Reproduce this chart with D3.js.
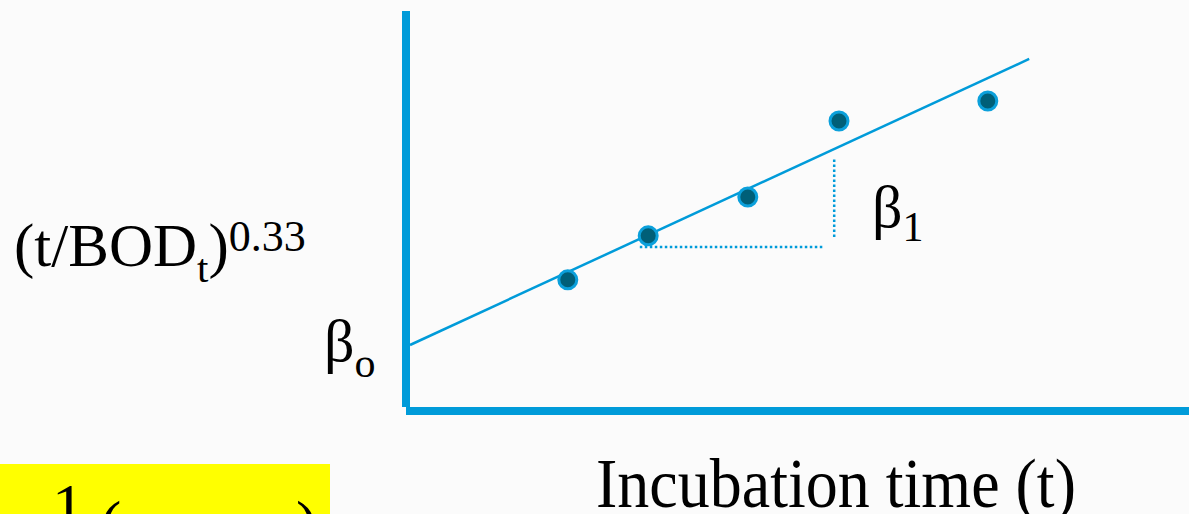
<!DOCTYPE html>
<html>
<head>
<meta charset="utf-8">
<script src="https://cdn.jsdelivr.net/npm/d3@7"></script>
<style>
  html, body { margin: 0; padding: 0; background: #fbfbfb; }
  svg { display: block; font-family: "Liberation Serif", "Times New Roman", serif; }
</style>
</head>
<body>
<div id="chart"></div>
<script>
// Observations: incubation time vs (t/BOD_t)^0.33
const times = [2.63, 3.97, 5.63, 7.15, 9.63];
const transformed = [3.28, 4.38, 5.35, 7.25, 7.75];

// Fitted line: intercept (beta0) and slope (beta1), and x range of the line
const fit = [1.65, 0.693];
const fitRange = [0, 10.32];

// Slope triangle: horizontal leg [x0, x1, y], vertical leg [x, y0, y1]
const runLeg = [3.83, 6.88, 4.1];
const riseLeg = [7.07, 4.35, 6.3];

const width = 1189, height = 514;

const svg = d3.select("#chart").append("svg")
    .attr("width", width)
    .attr("height", height);

svg.append("rect")
    .attr("width", width)
    .attr("height", height)
    .attr("fill", "#fbfbfb");

// Scales
const x = d3.scaleLinear().domain([0, 10]).range([410, 1010]);
const y = d3.scaleLinear().domain([0, 10]).range([411, 11]);

const blue = "#009bd9";

// Axes (thick lines, no ticks)
svg.append("line")
    .attr("x1", x(0) - 4).attr("x2", x(0) - 4)
    .attr("y1", y(10)).attr("y2", y(0) - 4)
    .attr("stroke", blue).attr("stroke-width", 8);

svg.append("line")
    .attr("x1", x(0) - 4).attr("x2", width)
    .attr("y1", y(0)).attr("y2", y(0))
    .attr("stroke", blue).attr("stroke-width", 8);

// Regression line
const line = d3.line()
    .x(d => x(d))
    .y(d => y(fit[0] + fit[1] * d));

svg.append("path")
    .datum(fitRange)
    .attr("fill", "none")
    .attr("stroke", blue)
    .attr("stroke-width", 2.5)
    .attr("d", line);

// Slope triangle (dotted)
svg.append("line")
    .attr("x1", x(runLeg[0])).attr("x2", x(runLeg[1]))
    .attr("y1", y(runLeg[2])).attr("y2", y(runLeg[2]))
    .attr("stroke", blue).attr("stroke-width", 2.5)
    .attr("stroke-dasharray", "2.5,2.5");

svg.append("line")
    .attr("x1", x(riseLeg[0])).attr("x2", x(riseLeg[0]))
    .attr("y1", y(riseLeg[1])).attr("y2", y(riseLeg[2]))
    .attr("stroke", blue).attr("stroke-width", 2.5)
    .attr("stroke-dasharray", "2.5,2.5");

// Points
svg.selectAll("circle.pt")
    .data(times.map((t, i) => ({t, v: transformed[i]})))
    .enter().append("circle")
      .attr("class", "pt")
      .attr("cx", d => x(d.t))
      .attr("cy", d => y(d.v))
      .attr("r", 9)
      .attr("fill", "#005f78")
      .attr("stroke", "#0ba0db")
      .attr("stroke-width", 3);

// Y label: (t/BOD_t)^0.33
const ylab = svg.append("text")
    .attr("x", 14)
    .attr("y", 266)
    .attr("font-size", 61)
    .attr("fill", "#000");
ylab.append("tspan").text("(t/BOD");
ylab.append("tspan").attr("font-size", 41).attr("dy", 16).text("t");
ylab.append("tspan").attr("dy", -16).text(")");
ylab.append("tspan").attr("font-size", 44).attr("dy", -15).text("0.33");

// beta0 label
const b0 = svg.append("text")
    .attr("x", 324)
    .attr("y", 361)
    .attr("font-size", 60)
    .attr("fill", "#000");
b0.append("tspan").text("β");
b0.append("tspan").attr("font-size", 42).attr("dy", 16).text("o");

// beta1 label
const b1 = svg.append("text")
    .attr("x", 872)
    .attr("y", 227)
    .attr("font-size", 60)
    .attr("fill", "#000");
b1.append("tspan").text("β");
b1.append("tspan").attr("font-size", 42).attr("dy", 14).text("1");

// X label
svg.append("text")
    .attr("transform", "translate(836,507) scale(0.97,1.05)")
    .attr("text-anchor", "middle")
    .attr("font-size", 66)
    .attr("fill", "#000")
    .text("Incubation time (t)");

// Highlighted formula box (cut off at the bottom)
svg.append("rect")
    .attr("x", 0).attr("y", 464)
    .attr("width", 330).attr("height", 60)
    .attr("fill", "#ffff00");

svg.append("text")
    .attr("x", 52).attr("y", 528)
    .attr("font-size", 64)
    .attr("fill", "#000")
    .text("1");

svg.append("text")
    .attr("x", 100).attr("y", 545)
    .attr("font-size", 64)
    .attr("fill", "#000")
    .text("(");

svg.append("text")
    .attr("x", 296).attr("y", 545)
    .attr("font-size", 64)
    .attr("fill", "#000")
    .text(")");
</script>
</body>
</html>
